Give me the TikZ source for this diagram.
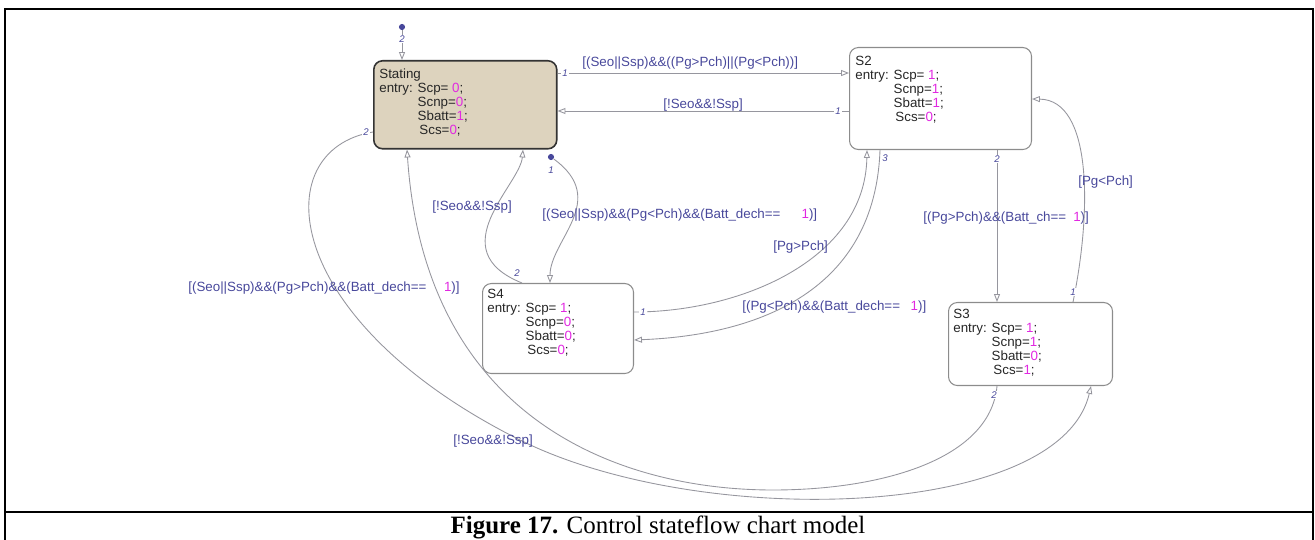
\documentclass[tikz,border=0pt]{standalone}
\usepackage{fontspec}
\setmainfont{Liberation Serif}
\newfontfamily\chartfont{Liberation Sans}
\usepackage{xcolor}
\usetikzlibrary{arrows.meta,positioning,calc}

\definecolor{guardblue}{RGB}{72,72,155}
\definecolor{valpink}{RGB}{225,40,225}
\definecolor{wiregray}{RGB}{150,150,158}
\definecolor{statetan}{RGB}{221,211,190}
\newcommand{\sv}[1]{\textcolor{valpink}{#1}}
\newcommand{\ind}{\phantom{entry: }}

\begin{document}
\begin{tikzpicture}[x=0.02cm, y=-0.02cm,
  every node/.style={font=\chartfont\fontsize{7.6}{8}\selectfont},
  chartstate/.style={draw=black!45, line width=0.6pt, rounded corners=5pt, anchor=north west, inner sep=0pt},
  stext/.style={anchor=north west, align=left, inner sep=0pt, text=black!85},
  trans/.style={draw=wiregray, line width=0.5pt, -{Triangle[open, length=4.5pt, width=3.4pt]}},
  guard/.style={text=guardblue, anchor=west, inner sep=0pt},
  num/.style={text=guardblue, font=\chartfont\itshape\fontsize{5.5}{6}\selectfont, fill=white, inner sep=0.5pt},
  initdot/.style={circle, fill=guardblue, inner sep=0pt, minimum size=3.5pt}
]
\useasboundingbox (0,0) rectangle (1315,540);
% ---- frame and caption ----
\draw[line width=1.3pt] (5,540) -- (5,9) -- (1313,9) -- (1313,540);
\draw[line width=1.3pt] (5,512) -- (1313,512);
\node[font=\rmfamily\fontsize{14.2}{16}\selectfont] (cap) at (658,527) {\textbf{Figure 17.} Control stateflow chart model};

% ---- states ----
\node[chartstate, fill=statetan, draw=black!80, line width=0.9pt, minimum width=3.66cm, minimum height=1.76cm] (st) at (373,60) {};
\node[stext] (sttxt) at ($(st.north west)+(6,8)$) {Stating\\ entry: Scp= \sv{0};\\ \ind Scnp=\sv{0};\\ \ind Sbatt=\sv{1};\\ \ind\hspace{1pt}Scs=\sv{0};};
\node[chartstate, minimum width=3.64cm, minimum height=2.04cm] (s2) at (849,47) {};
\node[stext] (s2txt) at ($(s2.north west)+(6,9)$) {S2\\ entry: Scp= \sv{1};\\ \ind Scnp=\sv{1};\\ \ind Sbatt=\sv{1};\\ \ind\hspace{1pt}Scs=\sv{0};};
\node[chartstate, minimum width=3.02cm, minimum height=1.8cm] (s4) at (482,283) {};
\node[stext] (s4txt) at ($(s4.north west)+(5,6)$) {S4\\ entry: Scp= \sv{1};\\ \ind Scnp=\sv{0};\\ \ind Sbatt=\sv{0};\\ \ind\hspace{1pt}Scs=\sv{0};};
\node[chartstate, minimum width=3.28cm, minimum height=1.66cm] (s3) at (948,302) {};
\node[stext] (s3txt) at ($(s3.north west)+(5,7)$) {S3\\ entry: Scp= \sv{1};\\ \ind Scnp=\sv{1};\\ \ind Sbatt=\sv{0};\\ \ind\hspace{1pt}Scs=\sv{1};};

% ---- default transitions ----
\node[initdot] (i1) at (402,27) {};
\draw[trans] (i1) -- (i1 |- st.north);
\node[num] (n0) at (402,39) {2};
\node[initdot] (i2) at (551,157) {};
\draw[trans] (i2) .. controls (610,200) and (550,240) .. ($(s4.north west)+(68,0)$);
\node[num] (n3) at (551,170) {1};

% ---- Stating <-> S2 ----
\draw[trans] ($(st.north east)+(0,13)$) -- ($(s2.north west)+(0,26)$);
\node[num] (n1) at (565,73) {1};
\node[guard] (g1) at (582,63) {[(Seo||Ssp)\&\&((Pg>Pch)||(Pg<Pch))]};
\draw[trans] ($(s2.north west)+(0,64)$) -- ($(st.north east)+(0,51)$);
\node[num] (n2) at (838,111) {1};
\node[guard] (g2) at (663,105) {[!Seo\&\&!Ssp]};

% ---- S4 ----
\node[guard] (g3) at (542,215) {[(Seo||Ssp)\&\&(Pg<Pch)\&\&(Batt\_dech==\hspace{12pt}\sv{1})]};
\draw[trans] ($(s4.north west)+(40,0)$) .. controls (440,250) and (520,185) .. ($(st.south west)+(150,0)$);
\node[num] (n4) at (517,273) {2};
\node[guard] (g4) at (432,207) {[!Seo\&\&!Ssp]};
\draw[trans] ($(s4.north east)+(0,29)$) .. controls (740,312) and (865,260) .. ($(s2.south west)+(18,0)$);
\node[num] (n5) at (643,312) {1};
\node[guard] (g5) at (773,247) {[Pg>Pch]};
\draw[trans] ($(s2.south west)+(31,0)$) .. controls (875,290) and (760,335) .. ($(s4.north east)+(0,57)$);
\node[num] (n6) at (885,158) {3};
\node[guard] (g6) at (742,307) {[(Pg<Pch)\&\&(Batt\_dech==\hspace{6pt}\sv{1})]};

% ---- S2 <-> S3 ----
\draw[trans] ($(s2.south west)+(148,0)$) -- ($(s3.north west)+(49,0)$);
\node[num] (n7) at (997,159) {2};
\node[guard] (g7) at (923,218) {[(Pg>Pch)\&\&(Batt\_ch==\hspace{4pt}\sv{1})]};
\draw[trans] ($(s3.north west)+(125,0)$) .. controls (1092,210) and (1092,100) .. ($(s2.north east)+(0,52)$);
\node[num] (n8) at (1073,292) {1};
\node[guard] (g8) at (1078,182) {[Pg<Pch]};

% ---- Stating <-> S3 ----
\coordinate (low1) at (520,440);
\coordinate (low2) at (773,490);
\draw[trans] ($(st.north west)+(0,72)$) .. controls (265,150) and (280,320) .. (low1)
  .. controls (700,530) and (1060,520) .. ($(s3.south west)+(143,0)$);
\node[num] (n10) at (366,132) {2};
\node[guard] (g9) at (188,288) {[(Seo||Ssp)\&\&(Pg>Pch)\&\&(Batt\_dech==\hspace{10pt}\sv{1})]};
\draw[trans] ($(s3.south west)+(49,0)$) .. controls (990,460) and (880,490) .. (low2)
  .. controls (620,490) and (425,420) .. ($(st.south west)+(34,0)$);
\node[num] (n9) at (994,395) {2};
\node[guard] (g10) at (453,441) {[!Seo\&\&!Ssp]};
\end{tikzpicture}
\end{document}
